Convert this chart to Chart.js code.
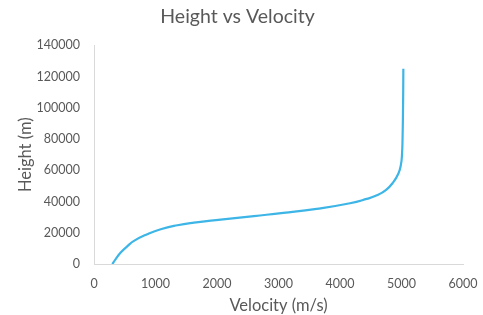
<!DOCTYPE html>
<html><head><meta charset="utf-8">
<script src="https://cdn.jsdelivr.net/npm/chart.js@4"></script>
<style>html,body{margin:0;padding:0;background:#fff}#wrap{width:483px;height:315px}</style>
</head><body><div id="wrap"><canvas id="c" width="483" height="315"></canvas></div>
<script>
const velocity = [298, 350, 434, 540, 650, 867, 1085, 1355, 1626, 2060, 2600, 3078, 3620, 4163, 4434, 4600, 4750, 4867, 4950, 4990, 5008, 5018, 5024, 5028, 5030];
const height   = [0, 3000, 7300, 11300, 14800, 19100, 22300, 24800, 26450, 28400, 30700, 32700, 35300, 38900, 41700, 44000, 47500, 52400, 58000, 63500, 70000, 82000, 97000, 112000, 125000];
const xTicks = [0, 1000, 2000, 3000, 4000, 5000, 6000];
const yTicks = [0, 20000, 40000, 60000, 80000, 100000, 120000, 140000];

const pts = velocity.map((v, i) => ({x: v, y: height[i]}));
const FONT = "Lato, 'Open Sans', sans-serif";
const GRAY = '#595959';

new Chart(document.getElementById('c'), {
  type: 'scatter',
  data: { datasets: [{ data: pts, showLine: true, borderColor: '#3db5e6', borderWidth: 2.2,
    pointRadius: 0, tension: 0.5, fill: false }] },
  options: {
    responsive: false, animation: false, devicePixelRatio: 1,
    layout: { padding: { left: 12, right: 20, top: 0, bottom: 0 } },
    plugins: {
      legend: { display: false }, tooltip: { enabled: false },
      title: { display: true, text: 'Height vs Velocity', color: GRAY,
        font: { family: FONT, size: 19.5, weight: 'normal' }, padding: { top: 5, bottom: 17 } }
    },
    scales: {
      x: { type: 'linear', min: 0, max: 6000,
        afterBuildTicks: s => { s.ticks = xTicks.map(v => ({value: v})); },
        ticks: { color: GRAY, font: { family: FONT, size: 12.5 }, padding: 12, maxRotation: 0, callback: v => String(v) },
        grid: { display: false, drawTicks: false },
        border: { display: true, color: '#d9d9d9', width: 1 },
        title: { display: true, text: 'Velocity (m/s)', color: GRAY, font: { family: FONT, size: 16.5 }, padding: { top: 0, bottom: -1 } },
        afterFit: s => { s.height = 51; s.paddingRight = 0; s.paddingLeft = 0; }
      },
      y: { type: 'linear', min: 0, max: 140000,
        afterBuildTicks: s => { s.ticks = yTicks.map(v => ({value: v})); },
        ticks: { color: GRAY, font: { family: FONT, size: 12.5 }, padding: 14, callback: v => String(v) },
        grid: { display: false, drawTicks: false },
        border: { display: true, color: '#d9d9d9', width: 1 },
        title: { display: true, text: 'Height (m)', color: GRAY, font: { family: FONT, size: 16.5 }, padding: { bottom: 4 } },
        afterFit: s => { s.width = 82; }
      }
    }
  }
});
</script></body></html>
